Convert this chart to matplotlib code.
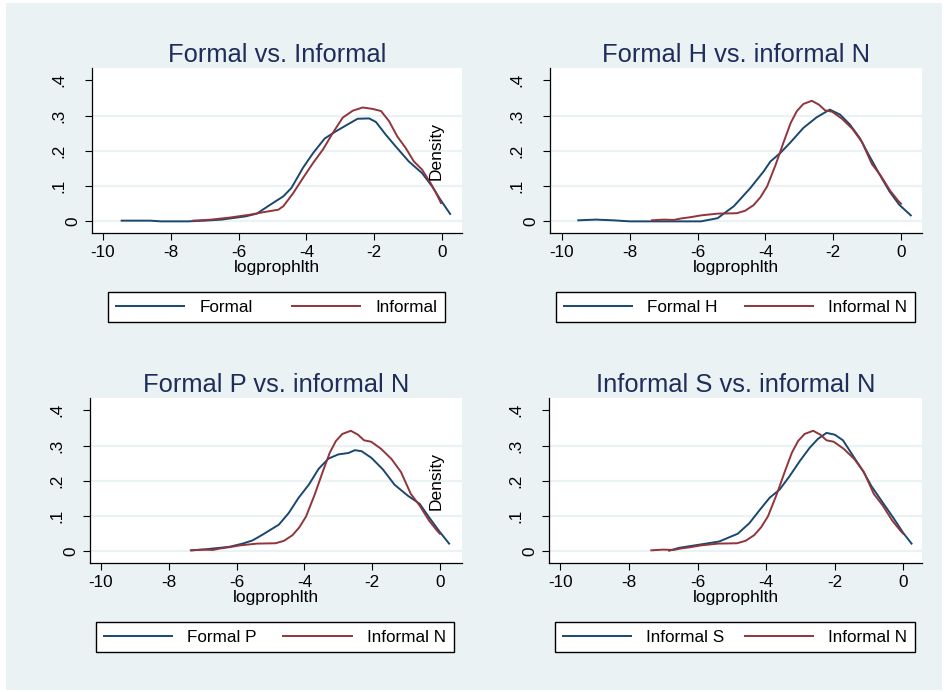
import matplotlib
matplotlib.use("Agg")
import matplotlib.pyplot as plt
from matplotlib.patches import Rectangle

plt.rcParams['font.family'] = ['Liberation Sans', 'DejaVu Sans']

# ---- data (kernel density curves) ----
formal_x = [-9.45, -9.0, -8.6, -8.3, -7.5, -7.0, -6.5, -6.2, -5.8, -5.46, -5.07, -4.68, -4.44,
            -4.10, -3.80, -3.46, -3.12, -2.78, -2.49, -2.15, -1.95, -1.66, -1.37, -0.98, -0.59,
            -0.29, -0.05, 0.24]
formal_y = [0.002, 0.002, 0.002, 0.0, 0.0, 0.002, 0.005, 0.009, 0.014, 0.022, 0.047, 0.071, 0.095,
            0.152, 0.194, 0.235, 0.256, 0.275, 0.291, 0.292, 0.282, 0.246, 0.213, 0.170, 0.137,
            0.099, 0.062, 0.021]

informal_x = [-7.34, -6.8, -6.24, -5.66, -5.27, -4.83, -4.68, -4.39, -4.10, -3.80, -3.51, -3.22,
              -2.93, -2.63, -2.34, -2.05, -1.80, -1.56, -1.32, -1.07, -0.83, -0.59, -0.34, -0.15,
              -0.03]
informal_y = [0.002, 0.005, 0.011, 0.019, 0.026, 0.033, 0.043, 0.080, 0.123, 0.166, 0.204, 0.251,
              0.294, 0.314, 0.323, 0.319, 0.313, 0.284, 0.241, 0.208, 0.170, 0.147, 0.109, 0.076,
              0.052]

formal_h_x = [-9.52, -9.0, -8.5, -8.0, -7.0, -5.90, -5.41, -4.93, -4.44, -4.05, -3.85, -3.56,
              -3.27, -2.88, -2.49, -2.10, -1.80, -1.51, -1.22, -0.93, -0.63, -0.34, -0.05, 0.29]
formal_h_y = [0.003, 0.005, 0.003, 0.0, 0.0, 0.0, 0.009, 0.043, 0.095, 0.142, 0.170, 0.194,
              0.223, 0.265, 0.295, 0.317, 0.303, 0.275, 0.237, 0.185, 0.133, 0.085, 0.047, 0.017]

formal_p_x = [-7.32, -7.0, -6.6, -6.21, -5.82, -5.53, -5.24, -4.75, -4.46, -4.17, -3.87, -3.58,
              -3.29, -3.0, -2.70, -2.51, -2.31, -2.02, -1.68, -1.34, -0.95, -0.60, -0.31, -0.02,
              0.27]
formal_p_y = [0.003, 0.005, 0.009, 0.013, 0.022, 0.031, 0.047, 0.076, 0.109, 0.152, 0.189, 0.234,
              0.263, 0.275, 0.279, 0.287, 0.284, 0.265, 0.232, 0.189, 0.158, 0.135, 0.095, 0.057,
              0.022]

informal_s_x = [-6.83, -6.54, -5.95, -5.37, -4.83, -4.49, -4.20, -3.90, -3.61, -3.32, -3.02,
                -2.73, -2.49, -2.24, -2.0, -1.76, -1.46, -1.17, -0.93, -0.59, -0.29, 0.0, 0.24]
informal_s_y = [0.002, 0.010, 0.019, 0.028, 0.050, 0.080, 0.116, 0.152, 0.175, 0.213, 0.256,
                0.294, 0.319, 0.336, 0.331, 0.315, 0.270, 0.227, 0.185, 0.137, 0.095, 0.052, 0.022]

informal_n_x = [-7.35, -7.0, -6.7, -6.5, -6.2, -5.9, -5.4, -4.85, -4.6, -4.35, -4.15, -3.95,
                -3.7, -3.45, -3.25, -3.07, -2.88, -2.63, -2.42, -2.24, -2.03, -1.74, -1.43,
                -1.15, -0.86, -0.6, -0.32, -0.08, 0.0]
informal_n_y = [0.003, 0.005, 0.004, 0.008, 0.012, 0.017, 0.022, 0.023, 0.030, 0.046, 0.068, 0.099,
                0.160, 0.228, 0.280, 0.313, 0.333, 0.342, 0.331, 0.315, 0.311, 0.291, 0.262,
                0.225, 0.163, 0.130, 0.087, 0.058, 0.050]

titles = ["Formal vs. Informal", "Formal H vs. informal N",
          "Formal P vs. informal N", "Informal S vs. informal N"]
series = [
    ((formal_x, formal_y, "Formal"), (informal_x, informal_y, "Informal")),
    ((formal_h_x, formal_h_y, "Formal H"), (informal_n_x, informal_n_y, "Informal N")),
    ((formal_p_x, formal_p_y, "Formal P"), (informal_n_x, informal_n_y, "Informal N")),
    ((informal_s_x, informal_s_y, "Informal S"), (informal_n_x, informal_n_y, "Informal N")),
]
show_density = [True, False, True, False]
yticks = [0, 0.1, 0.2, 0.3, 0.4]
ytick_labels = ["0", ".1", ".2", ".3", ".4"]
xticks = [-10, -8, -6, -4, -2, 0]
xtick_labels = ["-10", "-8", "-6", "-4", "-2", "0"]

# layout in pixels: left, top, right, bottom ; x limits ; legend (x0, width)
W, H = 945, 692
rects = [(92, 68, 462, 233), (550, 68, 922, 233), (90, 398, 462, 563), (549, 398, 922, 563)]
xlims = [(-10.324, 0.59), (-10.354, 0.62), (-10.324, 0.65), (-10.335, 0.545)]
legpos = [(0.043, 0.911), (0.016, 0.965), (0.016, 0.962), (0.016, 0.965)]

navy = "#1a476f"
maroon = "#90353b"
bg = "#eaf2f3"
title_col = "#1e2d5a"

fig = plt.figure(figsize=(W / 100, H / 100), dpi=100)
fig.patches.append(Rectangle((6 / W, 1 - 690 / H), 936 / W, 687 / H,
                             transform=fig.transFigure, facecolor=bg, edgecolor="none", zorder=-10))

for i in range(4):
    l, t, r, b = rects[i]
    ax = fig.add_axes([l / W, 1 - b / H, (r - l) / W, (b - t) / H])
    ax.set_facecolor("white")
    (x1, y1, lab1), (x2, y2, lab2) = series[i]
    ln1, = ax.plot(x1, y1, color=navy, lw=1.4)
    ln2, = ax.plot(x2, y2, color=maroon, lw=1.4)

    ax.set_xlim(*xlims[i])
    ax.set_ylim(-0.033, 0.435)
    for g in [0, 0.1, 0.2, 0.3]:
        ax.axhline(g, color=bg, lw=1.6, zorder=0)

    for s in ["top", "right"]:
        ax.spines[s].set_visible(False)
    for s in ["left", "bottom"]:
        ax.spines[s].set_linewidth(0.9)
        ax.spines[s].set_color("black")

    ax.set_xticks(xticks)
    ax.set_xticklabels(xtick_labels, fontsize=12.3)
    ax.set_yticks(yticks)
    ax.set_yticklabels(ytick_labels, fontsize=12.3, rotation=90, va="center")
    ax.tick_params(axis="both", direction="out", length=5, width=0.8, color="black")
    ax.tick_params(axis="x", pad=3.6)
    ax.tick_params(axis="y", pad=13.3)
    ax.yaxis.get_major_ticks()[0].set_pad(3.2)

    ax.set_xlabel("logprophlth", fontsize=12.5, labelpad=0)
    ax.set_title(titles[i], fontsize=18.4, color=title_col, pad=4.4)

    if show_density[i]:
        ax.text(0.93, 0.498, "Density", rotation=90, transform=ax.transAxes,
                ha="center", va="center", fontsize=12.5)

    x0, w = legpos[i]
    leg = ax.legend([ln1, ln2], [lab1, lab2], loc="upper left",
                    bbox_to_anchor=(x0, -0.358, w, 0), mode="expand", ncol=2,
                    borderaxespad=0, fontsize=12.3, frameon=True, fancybox=False,
                    edgecolor="black", framealpha=1, handlelength=4.0,
                    handletextpad=0.9, borderpad=0.45)
    leg.get_frame().set_linewidth(1.0)

fig.savefig("out.png", dpi=100)
